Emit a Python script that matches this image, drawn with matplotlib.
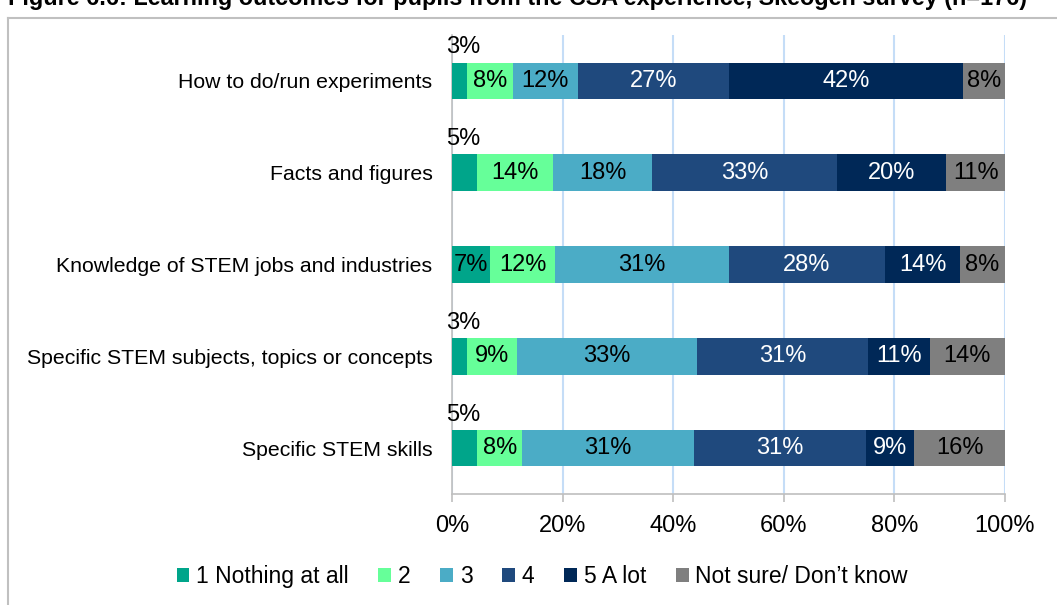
import matplotlib.pyplot as plt
from matplotlib.lines import Line2D

plt.rcParams["font.family"] = ["Liberation Sans", "DejaVu Sans"]

# survey items, top to bottom
items = [
  "How to do/run experiments",
  "Facts and figures",
  "Knowledge of STEM jobs and industries",
  "Specific STEM subjects, topics or concepts",
  "Specific STEM skills",
]
responses = ["1 Nothing at all", "2", "3", "4", "5 A lot", "Not sure/ Don\u2019t know"]

# share of pupils (%) per response, one list per response
nothing_at_all = [2.7, 4.6, 6.9, 2.7, 4.6]
score_2 = [8.3, 13.7, 11.8, 9.0, 8.1]
score_3 = [11.8, 17.9, 31.4, 32.6, 31.0]
score_4 = [27.3, 33.4, 28.2, 30.9, 31.2]
a_lot = [42.3, 19.8, 13.6, 11.2, 8.7]
not_sure = [7.6, 10.6, 8.1, 13.6, 16.4]

colors = ["#00A58A", "#66FF99", "#4BACC6", "#1F497D", "#002857", "#7F7F7F"]
text_colors = ["black", "black", "black", "white", "white", "black"]

series = [nothing_at_all, score_2, score_3, score_4, a_lot, not_sure]

fig = plt.figure(figsize=(10.57, 6.05), dpi=100)
ax = fig.add_axes([0.4276, 0.1835, 0.5232, 0.7586])

bar_h = 0.40
y = list(range(len(items)))
left = [0.0] * len(items)
for s, vals in enumerate(series):
  ax.barh(y, vals, left=left, height=bar_h, color=colors[s], label=responses[s], zorder=3)
  for i, v in enumerate(vals):
    txt = "%.0f%%" % v
    if v < 5:
      # too narrow for the label, put it above the bar start
      ax.annotate(txt, xy=(left[i], i - bar_h / 2), xytext=(-4, 3),
                  textcoords="offset points", ha="left", va="bottom",
                  fontsize=17, color="black")
    else:
      ax.text(left[i] + v / 2, i, txt, ha="center", va="center",
              fontsize=17, color=text_colors[s], zorder=4)
    left[i] += v

ax.set_xlim(0, 100)
ax.set_ylim(len(items) - 0.5, -0.5)
ax.set_yticks(y)
ax.set_yticklabels(items, fontsize=15.3)
ax.set_xticks([0, 20, 40, 60, 80, 100])
ax.set_xticklabels(["%d%%" % t for t in [0, 20, 40, 60, 80, 100]], fontsize=17)
ax.tick_params(axis="y", length=0, pad=14)
ax.tick_params(axis="x", length=6, color="#BFBFBF", width=1.2, pad=9)
ax.xaxis.grid(True, color="#C5DDF7", linewidth=1.5, zorder=0)
for side in ["top", "right"]:
  ax.spines[side].set_visible(False)
for side in ["left", "bottom"]:
  ax.spines[side].set_color("#BFBFBF")
  ax.spines[side].set_linewidth(1.2)

ax.legend(loc="center", bbox_to_anchor=(0.513, 0.047), bbox_transform=fig.transFigure,
          ncol=6, frameon=False, fontsize=16.5, handlelength=0.55, handleheight=0.55,
          handletextpad=0.3, columnspacing=1.3)

# outer frame of the figure panel
fig.add_artist(Line2D([8 / 1057, 8 / 1057], [0, 1 - 18 / 605], color="#C0C0C0", lw=1.5))
fig.add_artist(Line2D([8 / 1057, 1], [1 - 18 / 605, 1 - 18 / 605], color="#C0C0C0", lw=1.5))

fig.text(8 / 1057, 1 - 4.5 / 605, "Figure 6.6: Learning outcomes for pupils from the CSA experience, Skeogen survey (n=176)",
         fontsize=16.8, fontweight="bold", ha="left", va="baseline")

fig.savefig("out.png", dpi=100)
plt.close()
